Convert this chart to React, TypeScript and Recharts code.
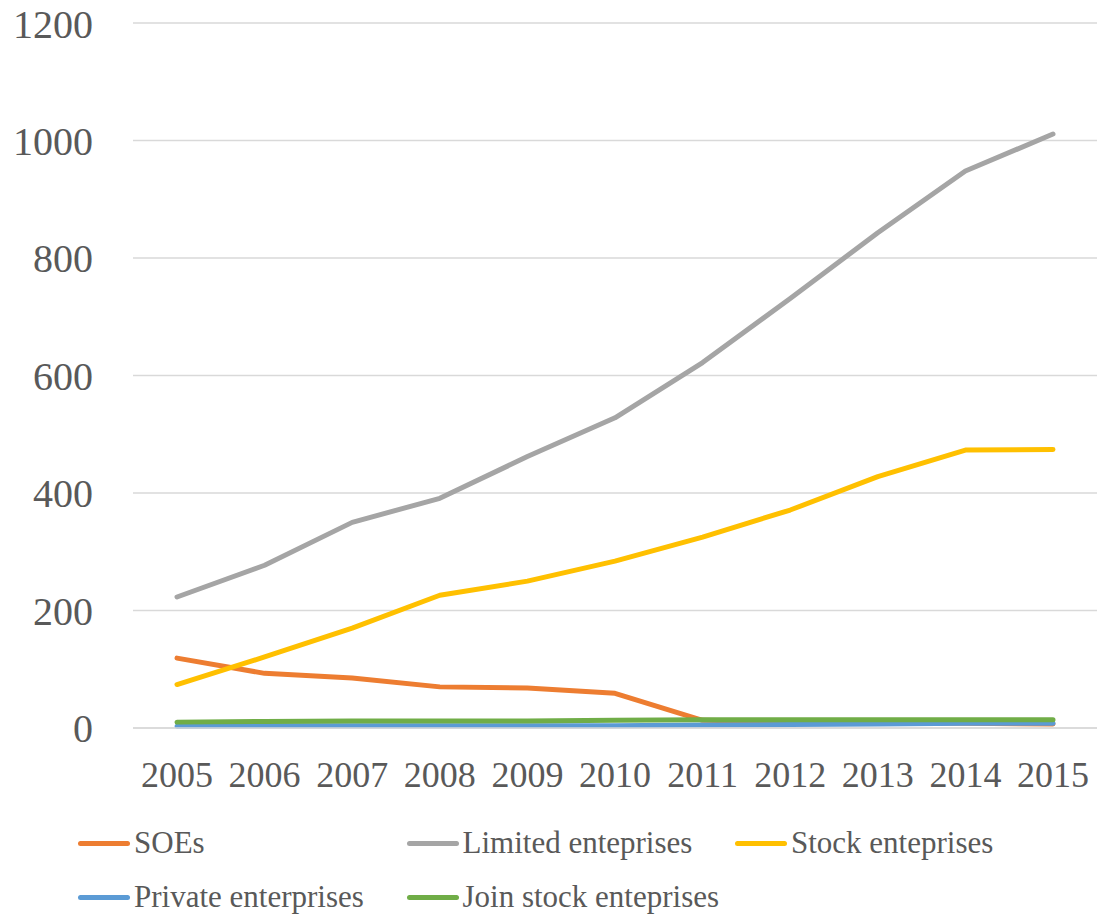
import { LineChart, Line, XAxis, YAxis, CartesianGrid, Legend } from "recharts"

const years = ["2005", "2006", "2007", "2008", "2009", "2010", "2011", "2012", "2013", "2014", "2015"]
const soes = [119, 93, 85, 70, 68, 59, 13, 11, 9, 8, 7]
const limited = [223, 277, 350, 391, 462, 528, 622, 731, 843, 948, 1011]
const stock = [74, 121, 170, 226, 250, 284, 325, 371, 428, 473, 474]
const privateEnt = [3, 4, 4, 4, 4, 4, 5, 6, 7, 8, 8]
const joinStock = [10, 11, 12, 12, 12, 13, 14, 14, 14, 14, 14]
const yTicks = [0, 200, 400, 600, 800, 1000, 1200]

const series = [
  { key: "soes", name: "SOEs", color: "#ED7D31" },
  { key: "limited", name: "Limited enteprises", color: "#A5A5A5" },
  { key: "stock", name: "Stock enteprises", color: "#FFC000" },
  { key: "private", name: "Private enterprises", color: "#5B9BD5" },
  { key: "join", name: "Join stock enteprises", color: "#70AD47" },
]

const data = years.map((y, i) => ({
  year: y,
  soes: soes[i],
  limited: limited[i],
  stock: stock[i],
  private: privateEnt[i],
  join: joinStock[i],
}))

const FONT = "'Liberation Serif', 'Times New Roman', serif"

function LegendBox() {
  return (
    <div style={{ position: "relative", width: 1097, height: 129, fontFamily: FONT }}>
      {series.map((s, i) => {
        const col = i % 3
        const row = Math.floor(i / 3)
        return (
          <div
            key={s.key}
            style={{
              position: "absolute",
              left: 78 + col * 328.5,
              top: 28 + row * 54,
              height: 54,
              display: "flex",
              alignItems: "center",
              whiteSpace: "nowrap",
            }}
          >
            <span
              style={{
                display: "inline-block",
                width: 52,
                height: 5,
                borderRadius: 3,
                background: s.color,
                marginRight: 4,
              }}
            />
            <span style={{ fontSize: 31, color: "#595959" }}>{s.name}</span>
          </div>
        )
      })}
    </div>
  )
}

export default function App() {
  return (
    <div style={{ position: "absolute", left: 0, top: 0, background: "#fff" }}>
      <LineChart
        width={1097}
        height={917}
        data={data}
        margin={{ top: 23, right: 0, bottom: 0, left: 0 }}
      >
        <CartesianGrid stroke="#D9D9D9" strokeWidth={1.5} vertical={false} />
        <XAxis
          dataKey="year"
          height={60}
          padding={{ left: 44, right: 44 }}
          tickLine={false}
          tickSize={0}
          tickMargin={33}
          axisLine={{ stroke: "#D9D9D9", strokeWidth: 1.5 }}
          tick={{ fill: "#595959", fontSize: 36, fontFamily: FONT }}
          interval={0}
        />
        <YAxis
          width={133}
          domain={[0, 1200]}
          ticks={yTicks}
          tickLine={false}
          axisLine={false}
          tickSize={0}
          tickMargin={40}
          tick={{ fill: "#595959", fontSize: 40, fontFamily: FONT }}
        />
        <Legend verticalAlign="bottom" content={() => <LegendBox />} wrapperStyle={{ left: 0, width: 1097 }} />
        {series.map((s) => (
          <Line
            key={s.key}
            type="linear"
            dataKey={s.key}
            name={s.name}
            stroke={s.color}
            strokeWidth={5}
            strokeLinecap="round"
            strokeLinejoin="round"
            dot={false}
            isAnimationActive={false}
          />
        ))}
      </LineChart>
    </div>
  )
}
